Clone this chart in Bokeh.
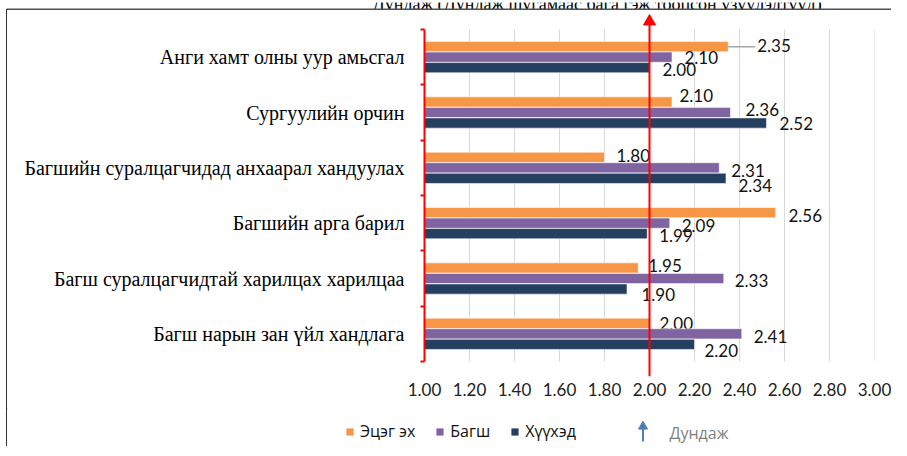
from bokeh.plotting import figure
from bokeh.layouts import column, row
from bokeh.models import (Range1d, FixedTicker, PrintfTickFormatter, Div,
                          Legend, LegendItem, ColumnDataSource)
from bokeh.embed import file_html
from bokeh.resources import INLINE
from bokeh.core.properties import value

# ---------------- data ----------------
categories = [
    "Анги хамт олны уур амьсгал",
    "Сургуулийн орчин",
    "Багшийн суралцагчидад анхаарал хандуулах",
    "Багшийн арга барил",
    "Багш суралцагчидтай харилцах харилцаа",
    "Багш нарын зан үйл хандлага",
]
series_names = ["Эцэг эх", "Багш", "Хүүхэд"]
parents = [2.35, 2.10, 1.80, 2.56, 1.95, 2.00]
teachers = [2.10, 2.36, 2.31, 2.09, 2.33, 2.41]
children = [2.00, 2.52, 2.34, 1.99, 1.90, 2.20]
average = 2.00
average_label = "Дундаж"
x_ticks = [1.00, 1.20, 1.40, 1.60, 1.80, 2.00, 2.20, 2.40, 2.60, 2.80, 3.00]
header_text = "Дундаж (Дундаж шугамаас бага гэж тооцсон үзүүлэлтүүд)"

# label nudges (pixels) as placed in the original chart
nudge_dx = [[29, 7.5, 12, 13, 10, 10],
            [12.5, 15, 12, 12, 11, 12],
            [13, 13, 12.5, 12, 14.5, 10]]
nudge_dy = [[-1, -6.5, -2, 3, -2.5, 0],
            [0.5, -3, 3, 2.5, 2, 3],
            [2, 0, 7, 2, 5.5, 6]]
leader = [[True, False, False, False, False, False],
          [False] * 6, [False] * 6]

colors = ["#f79646", "#8064a2", "#243f60"]
series = [parents, teachers, children]

# ---------------- geometry (picture pixels) ----------------
SY = 2                 # picture y of the layout's top edge
TOTAL_W = 891
HEAD_B = 12            # header strip ends here (picture y)
LEFT_W = 7             # left border strip width
MAIN_B = 410           # main chart ends here, legend strip below
LEG_B = 448
FL, FR, FT, FB = 424, 874, 31, 363   # category area on the picture
FRAME_B = 378
XMIN, XMAX = 1.0, 3.0
NCAT = len(categories)
px_x = (FR - FL) / (XMAX - XMIN)
px_y = (FB - FT) / NCAT
BORDER = "#303030"


def yd(pic_y):
    return (pic_y - FT) / px_y


def strip(w, y0, y1, x0):
    f = figure(width=w, height=y1 - y0, output_backend="svg", toolbar_location=None,
               x_range=Range1d(x0, x0 + w), y_range=Range1d(y1, y0),
               x_axis_type=None, y_axis_type=None, min_border=0)
    f.outline_line_color = None
    f.grid.visible = False
    return f


def left_border(h):
    return Div(text="", width=LEFT_W, height=h, margin=0,
               styles={"background": f"linear-gradient(to right, transparent 6px, {BORDER} 6px, {BORDER} 7px)"})


# ---------- header strip ----------
head = strip(TOTAL_W, SY, HEAD_B, 0)
head.text(x=[372], y=[3], text=[header_text], text_font=value("Liberation Serif"),
          text_font_size="18px", text_color="black", text_baseline="alphabetic")
head.segment(x0=[6], x1=[TOTAL_W], y0=[9], y1=[9], line_color="#505050", line_width=2)
head.segment(x0=[6.5], x1=[6.5], y0=[8.5], y1=[HEAD_B], line_color=BORDER, line_width=1.5)

# ---------- main chart ----------
MW = TOTAL_W - LEFT_W
p = figure(width=MW, height=MAIN_B - HEAD_B, output_backend="svg", toolbar_location=None,
           x_range=Range1d(XMIN, XMAX), y_range=Range1d(yd(FRAME_B), yd(HEAD_B)),
           min_border_left=FL - LEFT_W, min_border_right=MW - (FR - LEFT_W),
           min_border_top=0, min_border_bottom=MAIN_B - FRAME_B)
p.outline_line_color = None
p.grid.visible = False

# grid lines limited to the category area
p.segment(x0=x_ticks[1:], x1=x_ticks[1:], y0=[0] * 10, y1=[NCAT] * 10,
          line_color="#d9d9d9", line_width=1)

bar_h = 0.185
bar_off = 0.19
for k, vals in enumerate(series):
    ys = [i + 0.5 + (k - 1) * bar_off for i in range(NCAT)]
    src = ColumnDataSource(dict(y=ys, right=vals, left=[XMIN] * NCAT,
                                lab=[f"{v:.2f}" for v in vals],
                                dx=nudge_dx[k], dy=nudge_dy[k]))
    p.hbar(y="y", left="left", right="right", height=bar_h, source=src,
           fill_color=colors[k], line_color="white", line_width=0.8, line_alpha=0.7)
    p.text(x="right", y="y", text="lab", x_offset="dx", y_offset="dy", source=src,
           text_font=value("Lato"), text_font_size="17px", text_color="#111111",
           text_align="left", text_baseline="middle")
    lx0 = [vals[i] for i in range(NCAT) if leader[k][i]]
    lx1 = [vals[i] + (nudge_dx[k][i] - 2) / px_x for i in range(NCAT) if leader[k][i]]
    ly = [ys[i] for i in range(NCAT) if leader[k][i]]
    if lx0:
        p.segment(x0=lx0, x1=lx1, y0=ly, y1=ly, line_color="#a6a6a6", line_width=1.5)

# average line with arrow head
p.segment(x0=[average], x1=[average], y0=[yd(FRAME_B)], y1=[yd(25)], line_color="red", line_width=2)
p.scatter(x=[average], y=[yd(23)], marker="triangle", size=12,
          fill_color="red", line_color="red")

xa = p.xaxis[0]
xa.ticker = FixedTicker(ticks=x_ticks)
xa.formatter = PrintfTickFormatter(format="%.2f")
xa.axis_line_color = None
xa.major_tick_line_color = None
xa.minor_tick_line_color = None
xa.major_label_text_font = "Lato"
xa.major_label_text_font_size = "17px"
xa.major_label_text_color = "#222222"
xa.major_label_standoff = 0

ya = p.yaxis[0]
ya.ticker = FixedTicker(ticks=[i + 0.5 for i in range(NCAT)],
                        minor_ticks=[float(i) for i in range(NCAT + 1)])
ya.major_label_overrides = {i + 0.5: c for i, c in enumerate(categories)}
ya.bounds = (0, NCAT)
ya.axis_line_color = "red"
ya.axis_line_width = 2
ya.major_tick_out = 0
ya.major_tick_in = 0
ya.major_tick_line_color = None
ya.minor_tick_out = 4
ya.minor_tick_in = 0
ya.minor_tick_line_color = "red"
ya.minor_tick_line_width = 2
ya.major_label_text_font = "Liberation Serif"
ya.major_label_text_font_size = "20px"
ya.major_label_text_color = "black"
ya.major_label_standoff = 16

# ---------- legend strip ----------
leg_fig = strip(MW, MAIN_B, LEG_B, LEFT_W)
dummies = [leg_fig.hbar(y=[-1000], left=[0], right=[1], height=1, fill_color=c, line_color=None)
           for c in colors]
leg = Legend(items=[LegendItem(label=n, renderers=[r]) for n, r in zip(series_names, dummies)],
             location=(345 - LEFT_W, 4), orientation="horizontal",
             border_line_color=None, background_fill_alpha=0, padding=0, margin=0,
             glyph_width=9, glyph_height=9, label_standoff=6, spacing=20,
             label_text_font="Open Sans", label_text_font_size="16px",
             label_text_color="#111111", label_height=14)
leg_fig.add_layout(leg)
leg_fig.segment(x0=[642.5], x1=[642.5], y0=[443], y1=[429], line_color="#4a7ebb", line_width=2)
leg_fig.scatter(x=[642.5], y=[428], marker="triangle", size=9,
                fill_color="#4a7ebb", line_color="#4a7ebb")
leg_fig.text(x=[669], y=[434], text=[average_label], text_font=value("Open Sans"),
             text_font_size="16px", text_color="#7f7f7f", text_baseline="middle")

layout = column(head,
                row(left_border(MAIN_B - HEAD_B), p),
                row(left_border(LEG_B - MAIN_B), leg_fig))
open("out.html", "w").write(file_html(layout, INLINE))
